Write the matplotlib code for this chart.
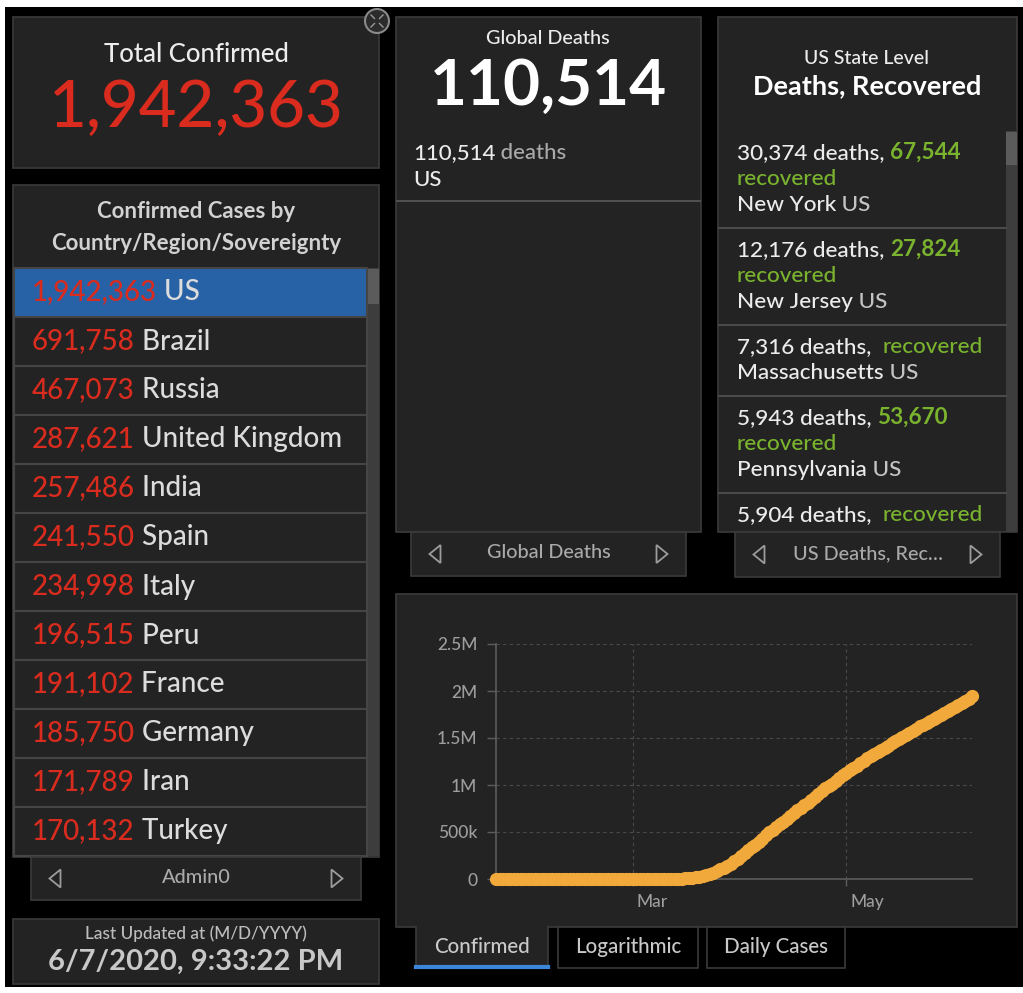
import numpy as np
import pandas as pd
import matplotlib
matplotlib.use('Agg')
import matplotlib.pyplot as plt
from matplotlib.patches import Rectangle, Polygon, Circle

plt.rcParams['font.family'] = ['Lato', 'DejaVu Sans']
plt.rcParams['font.weight'] = 'medium'

# ── Data ───────────────────────────────────────────────────────────────────────
total_confirmed = 1942363
global_deaths   = 110514
last_updated    = '6/7/2020, 9:33:22 PM'

countries     = ['US', 'Brazil', 'Russia', 'United Kingdom', 'India', 'Spain',
                 'Italy', 'Peru', 'France', 'Germany', 'Iran', 'Turkey']
country_cases = [1942363, 691758, 467073, 287621, 257486, 241550,
                 234998, 196515, 191102, 185750, 171789, 170132]

states          = ['New York', 'New Jersey', 'Massachusetts', 'Pennsylvania', 'Illinois']
state_deaths    = [30374, 12176, 7316, 5943, 5904]
state_recovered = [67544, 27824, None, 53670, None]

# US cumulative confirmed cases, daily from 2020-01-22 to 2020-06-07
start_date = '2020-01-22'
us_cases = [
    1, 1, 2, 2, 5, 5, 5, 6, 6, 8,
    8, 8, 11, 11, 11, 12, 12, 12, 12, 12, 13, 13, 14, 14, 14, 14, 14, 14, 14, 14,
    16, 16, 16, 16, 16, 16, 17, 25, 32,
    55, 74, 107, 184, 237, 403, 519, 594, 782, 1147, 1586, 2219, 2978, 3212, 4679,
    6512, 9169, 13663, 19100, 25489, 33272, 43847, 53740, 65778, 83836, 101657,
    121465, 140909, 161831, 188172,
    213242, 243622, 275367, 308650, 336802, 366317, 397121, 428654, 462780, 496535,
    526396, 555313, 580619, 607670, 636350, 667592, 699706, 732197, 759086, 784326,
    811865, 840351, 869170, 905358, 938154, 965785, 988197, 1012582, 1039909, 1069424,
    1103461, 1132539, 1158040, 1180375, 1204351, 1229331, 1257023, 1283929, 1309550,
    1329260, 1347881, 1369376, 1390406, 1417774, 1442824, 1467820, 1486757, 1508308,
    1528568, 1551853, 1577147, 1600937, 1622612, 1643246, 1662302, 1680913, 1699933,
    1721750, 1746019, 1770165, 1790191,
    1811277, 1831821, 1851520, 1872660, 1897838, 1920061, 1942363,
]
dates = pd.date_range(start_date, periods=len(us_cases), freq='D')

y_ticks  = [0, 500000, 1000000, 1500000, 2000000, 2500000]
y_labels = ['0', '500k', '1M', '1.5M', '2M', '2.5M']
x_ticks  = [pd.Timestamp('2020-03-01'), pd.Timestamp('2020-05-01')]
x_labels = ['Mar', 'May']
tabs     = ['Confirmed', 'Logarithmic', 'Daily Cases']

# ── Colours ────────────────────────────────────────────────────────────────────
PANEL  = '#232323'
EDGE   = '#3b3b3b'
RED    = '#d92b1e'
GREEN  = '#7ab32e'
WHITE  = '#ececec'
GREY   = '#a9a9a9'
ORANGE = '#f2a93b'

W, H = 1023, 993
fig = plt.figure(figsize=(W / 100, H / 100), dpi=100, facecolor='white')
ax = fig.add_axes([0, 0, 1, 1])
ax.set_xlim(0, W)
ax.set_ylim(H, 0)
ax.axis('off')


def box(x0, y0, x1, y1, fc=PANEL, ec=EDGE, lw=1.2, z=1):
    ax.add_patch(Rectangle((x0, y0), x1 - x0, y1 - y0, facecolor=fc,
                           edgecolor=ec, linewidth=lw, zorder=z))


def runs(x, y, parts, size, z=3):
    # parts: (text, colour, weight) drawn one after another on one line
    prev = None
    for txt, col, wt in parts:
        if prev is None:
            prev = ax.text(x, y, txt, color=col, fontsize=size, fontweight=wt,
                           ha='left', va='center', zorder=z)
        else:
            prev = ax.annotate(txt, xy=(1, 0), xycoords=prev, color=col,
                               fontsize=size, fontweight=wt, ha='left',
                               va='bottom', zorder=z)
    return prev


def tri(cx, cy, left=True, z=4):
    w, h = 5.5, 9
    if left:
        pts = [(cx + w, cy - h), (cx - w, cy), (cx + w, cy + h)]
    else:
        pts = [(cx - w, cy - h), (cx + w, cy), (cx - w, cy + h)]
    ax.add_patch(Polygon(pts, closed=True, fill=False, edgecolor='#9c9c9c',
                         linewidth=1.3, zorder=z))


def nav(x0, y0, x1, y1, label):
    box(x0, y0, x1, y1, z=4)
    tri(x0 + 24, (y0 + y1) / 2, True, z=5)
    tri(x1 - 24, (y0 + y1) / 2, False, z=5)
    ax.text((x0 + x1) / 2, (y0 + y1) / 2 - 1, label, color=GREY, fontsize=14.3,
            ha='center', va='center', zorder=5)


# black dashboard background with a thin white margin
box(5, 7, W, 987, fc='black', ec='none', lw=0, z=0)

# ── Total confirmed ────────────────────────────────────────────────────────────
box(13, 17, 379, 168)
ax.text(196, 55, 'Total Confirmed', color=WHITE, fontsize=18.5,
        ha='center', va='center', zorder=3)
ax.text(196, 108, f'{total_confirmed:,}', color=RED, fontsize=47,
        ha='center', va='center', zorder=3)

# expand icon
ax.add_patch(Circle((377, 21), 12, facecolor='#2b2b2b', edgecolor='#8a8a8a',
                    linewidth=1.5, zorder=6))
for sx, sy in [(-1, -1), (1, -1), (-1, 1), (1, 1)]:
    ax.plot([377 + sx * 2.5, 377 + sx * 6], [21 + sy * 2.5, 21 + sy * 6],
            color='#9a9a9a', lw=1, zorder=7)

# ── Country list ───────────────────────────────────────────────────────────────
box(13, 185, 379, 857)
ax.text(196, 211, 'Confirmed Cases by', color='#d2d2d2', fontsize=16,
        fontweight='bold', ha='center', va='center', zorder=3)
ax.text(196, 244, 'Country/Region/Sovereignty', color='#d2d2d2', fontsize=16,
        fontweight='bold', ha='center', va='center', zorder=3)

row_h, row_top = 49, 268
box(367, row_top, 379, row_top + row_h * len(countries), fc='#3d3d3d', ec='none', z=2)
box(367, row_top + 1, 379, row_top + 36, fc='#5b5b5b', ec='none', z=2)
for i, (name, val) in enumerate(zip(countries, country_cases)):
    y0 = row_top + i * row_h
    fc = '#2862a6' if i == 0 else PANEL
    box(14, y0, 367, y0 + row_h, fc=fc, ec='#454545', lw=1.5, z=2)
    runs(32, y0 + row_h / 2, [(f'{val:,}', RED, 'medium'),
                              (' ' + name, '#dcdcdc', 'medium')], 20)

nav(31, 857, 361, 900, 'Admin0')

# ── Last updated ───────────────────────────────────────────────────────────────
box(13, 919, 379, 984)
ax.text(196, 934, 'Last Updated at (M/D/YYYY)', color='#bdbdbd', fontsize=12.3,
        ha='center', va='center', zorder=3)
ax.text(196, 962, last_updated, color='#c8c8c8', fontsize=21,
        fontweight='bold', ha='center', va='center', zorder=3)

# ── Global deaths ──────────────────────────────────────────────────────────────
box(396, 17, 701, 532)
ax.text(548, 38, 'Global Deaths', color=WHITE, fontsize=14.3,
        ha='center', va='center', zorder=3)
ax.text(548, 86, f'{global_deaths:,}', color='white', fontsize=46,
        fontweight='bold', ha='center', va='center', zorder=3)
runs(413, 153, [(f'{global_deaths:,}', WHITE, 'medium'),
                (' deaths', GREY, 'medium')], 16)
ax.text(413, 180, 'US', color=WHITE, fontsize=16, ha='left', va='center', zorder=3)
ax.plot([397, 700], [201, 201], color='#505050', lw=1.5, zorder=3)
nav(411, 532, 686, 576, 'Global Deaths')

# ── US state level ─────────────────────────────────────────────────────────────
box(718, 17, 1017, 532)
ax.text(867, 59, 'US State Level', color=WHITE, fontsize=14,
        ha='center', va='center', zorder=3)
ax.text(867, 86, 'Deaths, Recovered', color='white', fontsize=19.5,
        fontweight='bold', ha='center', va='center', zorder=3)
box(1006, 131, 1017, 532, fc='#3d3d3d', ec='none', z=2)
box(1006, 132, 1017, 165, fc='#5b5b5b', ec='none', z=2)

fs = 16.2
y = 131
for name, d, r in zip(states, state_deaths, state_recovered):
    if r is not None:
        runs(737, y + 22, [(f'{d:,} deaths, ', WHITE, 'medium'),
                           (f'{r:,}', GREEN, 'bold')], fs)
        ax.text(737, y + 48, 'recovered', color=GREEN, fontsize=fs,
                ha='left', va='center', zorder=3)
        runs(737, y + 74, [(name, WHITE, 'medium'), (' US', '#c4c4c4', 'medium')], fs)
        y_next = y + 97
    else:
        runs(737, y + 22, [(f'{d:,} deaths,  ', WHITE, 'medium'),
                           ('recovered', GREEN, 'medium')], fs)
        if y + 48 < 520:
            runs(737, y + 48, [(name, WHITE, 'medium'),
                               (' US', '#c4c4c4', 'medium')], fs)
        y_next = y + 71
    if y_next < 532:
        ax.plot([719, 1006], [y_next, y_next], color='#4a4a4a', lw=1.5, zorder=3)
    y = y_next

nav(735, 532, 1000, 577, 'US Deaths, Rec…')

# ── Chart panel ────────────────────────────────────────────────────────────────
box(396, 594, 1017, 927)
tab_x = [(416, 548), (558, 698), (707, 845)]
for i, (label, (x0, x1)) in enumerate(zip(tabs, tab_x)):
    if i == 0:
        box(x0, 926, x1, 968, fc=PANEL, ec='none', z=2)
        ax.plot([x0, x0], [927, 968], color=EDGE, lw=1.2, zorder=3)
        ax.plot([x1, x1], [927, 968], color=EDGE, lw=1.2, zorder=3)
        ax.plot([x0, x1], [967, 967], color='#3b86d9', lw=3, zorder=4)
    else:
        box(x0, 927, x1, 968, fc='black', ec='#3a3a3a', z=2)
    ax.text((x0 + x1) / 2, 947, label, color='#c9c9c9', fontsize=14.8,
            ha='center', va='center', zorder=5)

x_left, x_right, y_top, y_bot = 496, 972, 644, 879
cax = fig.add_axes([x_left / W, (H - y_bot) / H, (x_right - x_left) / W,
                    (y_bot - y_top) / H])
cax.set_facecolor('none')
cax.plot(dates, us_cases, color=ORANGE, lw=4, marker='o', markersize=9.5,
         markeredgewidth=0, clip_on=False, zorder=5)
cax.set_xlim(dates[0], dates[-1])
cax.set_ylim(0, 2500000)

for s in ['top', 'right']:
    cax.spines[s].set_visible(False)
for s in ['left', 'bottom']:
    cax.spines[s].set_color('#5c5c5c')
    cax.spines[s].set_linewidth(1.2)

cax.set_yticks(y_ticks)
cax.set_yticklabels(y_labels)
cax.tick_params(axis='y', length=6.5, width=1, color='#5c5c5c', pad=7,
                labelcolor='#9d9d9d', labelsize=12.5)
cax.set_xticks(x_ticks)
cax.set_xticklabels([])
cax.tick_params(axis='x', length=5, width=1, color='#5c5c5c')
for t, lbl in zip(x_ticks, x_labels):
    cax.annotate(lbl, xy=(t, 0), xycoords=('data', 'axes fraction'),
                 xytext=(3, -16.5), textcoords='offset points', ha='left',
                 va='center', color='#9d9d9d', fontsize=12.5)

cax.grid(True, color='#4a4a4a', linestyle=(0, (3, 3)), linewidth=0.8)
cax.set_axisbelow(True)

fig.savefig('out.png', dpi=100, facecolor='white')
